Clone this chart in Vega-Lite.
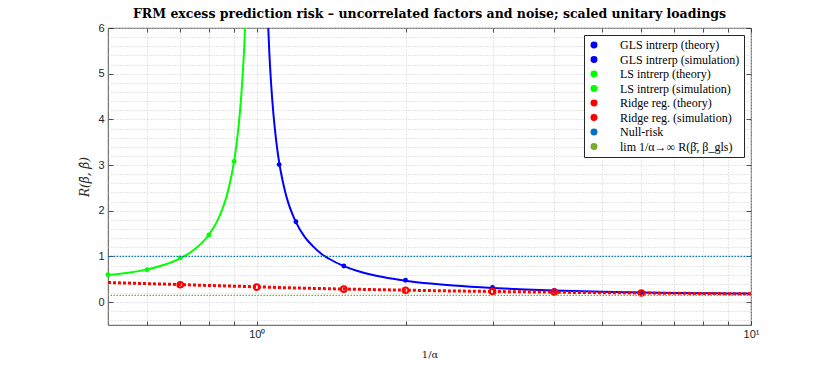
{
  "$schema": "https://vega.github.io/schema/vega-lite/v6.json",
  "width": 643,
  "height": 297,
  "autosize": {"type": "none"},
  "padding": {"left": 108, "top": 28, "right": 79, "bottom": 42},
  "background": "white",
  "config": {
    "view": {"stroke": "#262626", "strokeWidth": 0.8},
    "axis": {"labelFont": "Liberation Sans", "labelFontSize": 11, "labelColor": "#262626", "domain": false, "gridColor": "#cfcfcf", "gridDash": [1, 2], "gridWidth": 1, "tickColor": "#262626", "tickWidth": 0.8}
  },
  "title": {"text": "FRM excess prediction risk – uncorrelated factors and noise; scaled unitary loadings", "font": "DejaVu Serif", "fontSize": 12.5, "fontWeight": "bold", "color": "black", "offset": 2, "anchor": "middle"},
  "data": {"values": [
    {"series": "GLS intrerp (theory)", "x": 1.055, "y": 6.0},
    {"series": "GLS intrerp (theory)", "x": 1.06, "y": 5.48},
    {"series": "GLS intrerp (theory)", "x": 1.07, "y": 4.72},
    {"series": "GLS intrerp (theory)", "x": 1.08, "y": 4.15},
    {"series": "GLS intrerp (theory)", "x": 1.09, "y": 3.71},
    {"series": "GLS intrerp (theory)", "x": 1.10, "y": 3.35},
    {"series": "GLS intrerp (theory)", "x": 1.11, "y": 3.06},
    {"series": "GLS intrerp (theory)", "x": 1.12, "y": 2.82},
    {"series": "GLS intrerp (theory)", "x": 1.14, "y": 2.44},
    {"series": "GLS intrerp (theory)", "x": 1.16, "y": 2.15},
    {"series": "GLS intrerp (theory)", "x": 1.18, "y": 1.93},
    {"series": "GLS intrerp (theory)", "x": 1.2, "y": 1.75},
    {"series": "GLS intrerp (theory)", "x": 1.25, "y": 1.43},
    {"series": "GLS intrerp (theory)", "x": 1.3, "y": 1.22},
    {"series": "GLS intrerp (theory)", "x": 1.35, "y": 1.06},
    {"series": "GLS intrerp (theory)", "x": 1.4, "y": 0.95},
    {"series": "GLS intrerp (theory)", "x": 1.5, "y": 0.79},
    {"series": "GLS intrerp (theory)", "x": 1.6, "y": 0.683},
    {"series": "GLS intrerp (theory)", "x": 1.7, "y": 0.607},
    {"series": "GLS intrerp (theory)", "x": 1.8, "y": 0.55},
    {"series": "GLS intrerp (theory)", "x": 2.0, "y": 0.47},
    {"series": "GLS intrerp (theory)", "x": 2.25, "y": 0.406},
    {"series": "GLS intrerp (theory)", "x": 2.5, "y": 0.363},
    {"series": "GLS intrerp (theory)", "x": 3.0, "y": 0.31},
    {"series": "GLS intrerp (theory)", "x": 3.5, "y": 0.278},
    {"series": "GLS intrerp (theory)", "x": 4.0, "y": 0.257},
    {"series": "GLS intrerp (theory)", "x": 5.0, "y": 0.23},
    {"series": "GLS intrerp (theory)", "x": 6.0, "y": 0.214},
    {"series": "GLS intrerp (theory)", "x": 7.0, "y": 0.203},
    {"series": "GLS intrerp (theory)", "x": 8.0, "y": 0.196},
    {"series": "GLS intrerp (theory)", "x": 9.0, "y": 0.19},
    {"series": "GLS intrerp (theory)", "x": 10.0, "y": 0.186},
    {"series": "GLS intrerp (simulation)", "x": 1.11, "y": 3.01},
    {"series": "GLS intrerp (simulation)", "x": 1.2, "y": 1.76},
    {"series": "GLS intrerp (simulation)", "x": 1.5, "y": 0.79},
    {"series": "GLS intrerp (simulation)", "x": 2.0, "y": 0.48},
    {"series": "GLS intrerp (simulation)", "x": 3.0, "y": 0.32},
    {"series": "GLS intrerp (simulation)", "x": 4.0, "y": 0.255},
    {"series": "GLS intrerp (simulation)", "x": 6.0, "y": 0.21},
    {"series": "LS intrerp (theory)", "x": 0.5, "y": 0.595},
    {"series": "LS intrerp (theory)", "x": 0.52, "y": 0.61},
    {"series": "LS intrerp (theory)", "x": 0.55, "y": 0.643},
    {"series": "LS intrerp (theory)", "x": 0.6, "y": 0.717},
    {"series": "LS intrerp (theory)", "x": 0.65, "y": 0.818},
    {"series": "LS intrerp (theory)", "x": 0.7, "y": 0.959},
    {"series": "LS intrerp (theory)", "x": 0.75, "y": 1.163},
    {"series": "LS intrerp (theory)", "x": 0.8, "y": 1.476},
    {"series": "LS intrerp (theory)", "x": 0.83, "y": 1.757},
    {"series": "LS intrerp (theory)", "x": 0.85, "y": 2.01},
    {"series": "LS intrerp (theory)", "x": 0.87, "y": 2.34},
    {"series": "LS intrerp (theory)", "x": 0.89, "y": 2.8},
    {"series": "LS intrerp (theory)", "x": 0.9, "y": 3.09},
    {"series": "LS intrerp (theory)", "x": 0.91, "y": 3.46},
    {"series": "LS intrerp (theory)", "x": 0.92, "y": 3.91},
    {"series": "LS intrerp (theory)", "x": 0.93, "y": 4.5},
    {"series": "LS intrerp (theory)", "x": 0.94, "y": 5.28},
    {"series": "LS intrerp (theory)", "x": 0.945, "y": 5.78},
    {"series": "LS intrerp (theory)", "x": 0.9467, "y": 6.0},
    {"series": "LS intrerp (simulation)", "x": 0.5, "y": 0.6},
    {"series": "LS intrerp (simulation)", "x": 0.6, "y": 0.71},
    {"series": "LS intrerp (simulation)", "x": 0.7, "y": 0.97},
    {"series": "LS intrerp (simulation)", "x": 0.8, "y": 1.47},
    {"series": "LS intrerp (simulation)", "x": 0.9, "y": 3.08},
    {"series": "Ridge reg. (theory)", "x": 0.5, "y": 0.43},
    {"series": "Ridge reg. (theory)", "x": 0.6, "y": 0.405},
    {"series": "Ridge reg. (theory)", "x": 0.7, "y": 0.385},
    {"series": "Ridge reg. (theory)", "x": 0.8, "y": 0.365},
    {"series": "Ridge reg. (theory)", "x": 0.9, "y": 0.35},
    {"series": "Ridge reg. (theory)", "x": 1.0, "y": 0.335},
    {"series": "Ridge reg. (theory)", "x": 1.2, "y": 0.31},
    {"series": "Ridge reg. (theory)", "x": 1.5, "y": 0.287},
    {"series": "Ridge reg. (theory)", "x": 2.0, "y": 0.262},
    {"series": "Ridge reg. (theory)", "x": 2.5, "y": 0.245},
    {"series": "Ridge reg. (theory)", "x": 3.0, "y": 0.234},
    {"series": "Ridge reg. (theory)", "x": 4.0, "y": 0.218},
    {"series": "Ridge reg. (theory)", "x": 5.0, "y": 0.207},
    {"series": "Ridge reg. (theory)", "x": 6.0, "y": 0.2},
    {"series": "Ridge reg. (theory)", "x": 8.0, "y": 0.19},
    {"series": "Ridge reg. (theory)", "x": 10.0, "y": 0.183},
    {"series": "Ridge reg. (simulation)", "x": 0.7, "y": 0.38},
    {"series": "Ridge reg. (simulation)", "x": 1.0, "y": 0.33},
    {"series": "Ridge reg. (simulation)", "x": 1.5, "y": 0.285},
    {"series": "Ridge reg. (simulation)", "x": 2.0, "y": 0.26},
    {"series": "Ridge reg. (simulation)", "x": 3.0, "y": 0.235},
    {"series": "Ridge reg. (simulation)", "x": 4.0, "y": 0.22},
    {"series": "Ridge reg. (simulation)", "x": 6.0, "y": 0.2},
    {"series": "Null-risk", "y": 1},
    {"series": "lim 1/α→∞ R(β̄, β_gls)", "y": 0.15}
  ]},
  "resolve": {"axis": {"x": "independent", "y": "independent"}},
  "layer": [
    {
      "transform": [{"filter": "datum.series == 'GLS intrerp (theory)'"}],
      "mark": {"type": "line", "strokeWidth": 2, "interpolate": "monotone"},
      "encoding": {
        "x": {"field": "x", "type": "quantitative", "scale": {"type": "log", "domain": [0.5, 10], "nice": false},
          "axis": {"orient": "top", "values": [0.6, 0.7, 0.8, 0.9, 1, 2, 3, 4, 5, 6, 7, 8, 9, 10], "labels": false, "grid": false, "title": null, "tickSize": -4}},
        "y": {"field": "y", "type": "quantitative", "scale": {"domain": [-0.5, 6], "nice": false, "zero": false},
          "axis": {"orient": "right", "values": [0, 1, 2, 3, 4, 5, 6], "labels": false, "grid": false, "title": null, "tickSize": -5}},
        "color": {"field": "series", "type": "nominal",
          "scale": {"domain": ["GLS intrerp (theory)", "GLS intrerp (simulation)", "LS intrerp (theory)", "LS intrerp (simulation)", "Ridge reg. (theory)", "Ridge reg. (simulation)", "Null-risk", "lim 1/α→∞ R(β̄, β_gls)"],
            "range": ["#0000ff", "#0000ff", "#00ff00", "#00ff00", "#ff0000", "#ff0000", "#0072bd", "#77ac30"]},
          "legend": {"title": null, "orient": "top-right", "offset": 7, "padding": 4, "strokeColor": "#262626", "fillColor": "white",
            "symbolSize": 30, "labelOffset": 20, "rowPadding": 2.5, "labelFont": "Liberation Serif", "labelFontSize": 12, "labelColor": "black"}}
      }
    },
    {
      "transform": [{"filter": "datum.series == 'GLS intrerp (simulation)'"}],
      "mark": {"type": "point", "filled": true, "size": 24, "opacity": 1},
      "encoding": {
        "x": {"field": "x", "type": "quantitative", "axis": null},
        "y": {"field": "y", "type": "quantitative", "axis": null},
        "color": {"field": "series", "type": "nominal"}
      }
    },
    {
      "transform": [{"filter": "datum.series == 'LS intrerp (theory)'"}],
      "mark": {"type": "line", "strokeWidth": 2, "interpolate": "monotone"},
      "encoding": {
        "x": {"field": "x", "type": "quantitative", "axis": null},
        "y": {"field": "y", "type": "quantitative", "axis": null},
        "color": {"field": "series", "type": "nominal"}
      }
    },
    {
      "transform": [{"filter": "datum.series == 'LS intrerp (simulation)'"}],
      "mark": {"type": "point", "filled": true, "size": 24, "opacity": 1},
      "encoding": {
        "x": {"field": "x", "type": "quantitative", "axis": null},
        "y": {"field": "y", "type": "quantitative", "axis": null},
        "color": {"field": "series", "type": "nominal"}
      }
    },
    {
      "transform": [{"filter": "datum.series == 'Ridge reg. (theory)'"}],
      "mark": {"type": "line", "strokeWidth": 3, "strokeDash": [3, 2], "interpolate": "monotone"},
      "encoding": {
        "x": {"field": "x", "type": "quantitative",
          "axis": {"orient": "bottom", "values": [0.6, 0.7, 0.8, 0.9, 1, 2, 3, 4, 5, 6, 7, 8, 9, 10], "grid": true, "labelFlush": false,
            "labelExpr": "datum.value == 1 ? '10⁰' : datum.value == 10 ? '10¹' : ''", "labelPadding": 7, "tickSize": -4,
            "title": "1/α", "titleFont": "DejaVu Serif", "titleFontWeight": "normal", "titleFontSize": 10, "titleColor": "#262626", "titlePadding": 10}},
        "y": {"field": "y", "type": "quantitative",
          "axis": {"orient": "left", "values": [-0.4, -0.2, 0, 0.2, 0.4, 0.6, 0.8, 1, 1.2, 1.4, 1.6, 1.8, 2, 2.2, 2.4, 2.6, 2.8, 3, 3.2, 3.4, 3.6, 3.8, 4, 4.2, 4.4, 4.6, 4.8, 5, 5.2, 5.4, 5.6, 5.8, 6],
            "grid": true, "tickSize": -5, "labelPadding": 9,
            "labelExpr": "abs(datum.value - round(datum.value)) < 0.001 ? format(datum.value, 'd') : ''",
            "tickOpacity": {"condition": {"test": "abs(datum.value - round(datum.value)) < 0.001", "value": 1}, "value": 0},
            "title": "R(β̄, β̂)", "titleFont": "DejaVu Serif", "titleFontStyle": "italic", "titleFontWeight": "normal", "titleFontSize": 12, "titleColor": "#262626", "titlePadding": 6}},
        "color": {"field": "series", "type": "nominal"}
      }
    },
    {
      "transform": [{"filter": "datum.series == 'Ridge reg. (simulation)'"}],
      "mark": {"type": "point", "filled": false, "size": 32, "strokeWidth": 2, "opacity": 1},
      "encoding": {
        "x": {"field": "x", "type": "quantitative", "axis": null},
        "y": {"field": "y", "type": "quantitative", "axis": null},
        "color": {"field": "series", "type": "nominal"}
      }
    },
    {
      "transform": [{"filter": "datum.series == 'Null-risk' || indexof(datum.series, 'lim') == 0"}],
      "mark": {"type": "rule", "strokeWidth": 1.3, "strokeDash": [1.5, 1.5]},
      "encoding": {
        "y": {"field": "y", "type": "quantitative", "axis": null},
        "color": {"field": "series", "type": "nominal"}
      }
    }
  ]
}
